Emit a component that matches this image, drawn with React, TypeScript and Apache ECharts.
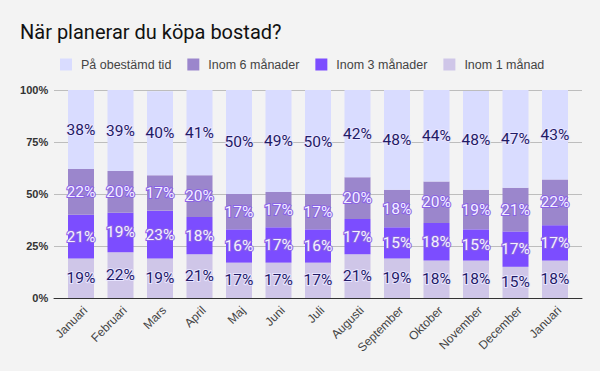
import React, { useEffect, useRef } from "react";
import * as echarts from "echarts";

const categories = ["Januari", "Februari", "Mars", "April", "Maj", "Juni", "Juli", "Augusti", "September", "Oktober", "November", "December", "Januari"];
const inom1 = [19, 22, 19, 21, 17, 17, 17, 21, 19, 18, 18, 15, 18];
const inom3 = [21, 19, 23, 18, 16, 17, 16, 17, 15, 18, 15, 17, 17];
const inom6 = [22, 20, 17, 20, 17, 17, 17, 20, 18, 20, 19, 21, 22];
const obestamd = [38, 39, 40.4, 41, 50, 49, 50, 42, 48, 44, 47.5, 47, 43];
const yTicks = [0, 25, 50, 75, 100];

const TOP = 90;
const BOTTOM = 73;

export default function App() {
  const ref = useRef<HTMLDivElement>(null);
  useEffect(() => {
    const chart = echarts.init(ref.current!, undefined, { renderer: "svg" });
    const lightLabel = {
      show: true,
      position: "inside",
      fontFamily: "Roboto",
      fontSize: 15.5,
      color: "#1f1a66",
      textBorderColor: "#e8e5ff",
      textBorderWidth: 2,
      formatter: (p: any) => Math.round(p.value) + "%",
    };
    const darkLabel = {
      ...lightLabel,
      color: "#f4f1ff",
      textBorderColor: "#8a63e6",
      textBorderWidth: 2,
    };
    const mk = (name: string, data: number[], color: string, label: any) => ({
      name,
      type: "bar",
      stack: "s",
      data,
      barWidth: 26,
      itemStyle: { color },
      label,
      xAxisIndex: 0,
      yAxisIndex: 0,
    });
    chart.setOption({
      animation: false,
      backgroundColor: "#f3f3f3",
      title: {
        text: "När planerar du köpa bostad?",
        left: 15,
        top: 17,
        textStyle: { fontFamily: "Roboto", fontSize: 20, fontWeight: "normal", color: "#111" },
      },
      legend: {
        top: 58,
        left: 60,
        padding: 0,
        itemWidth: 12,
        itemHeight: 12,
        itemGap: 16,
        icon: "rect",
        data: ["På obestämd tid", "Inom 6 månader", "Inom 3 månader", "Inom 1 månad"],
        textStyle: { fontFamily: "Liberation Sans", fontSize: 12.5, color: "#444", padding: [0, 0, 0, 4] },
      },
      grid: [
        { left: 61.25, right: 25.25, top: TOP, bottom: BOTTOM },
        { left: 54, right: 18, top: TOP, bottom: BOTTOM },
      ],
      xAxis: [
        {
          type: "category",
          gridIndex: 0,
          data: categories,
          axisLine: { show: false },
          axisTick: { show: false },
          axisLabel: {
            rotate: 45,
            interval: 0,
            fontFamily: "Liberation Sans",
            fontSize: 12,
            color: "#444",
            margin: 6,
            verticalAlign: "top",
          },
        },
        {
          type: "value",
          gridIndex: 1,
          min: 0,
          max: 1,
          axisLabel: { show: false },
          axisTick: { show: false },
          splitLine: { show: false },
          axisLine: { show: true, lineStyle: { color: "#333", width: 1 } },
        },
      ],
      yAxis: [
        {
          type: "value",
          gridIndex: 0,
          min: yTicks[0],
          max: yTicks[yTicks.length - 1],
          interval: 25,
          axisLine: { show: false },
          axisTick: { show: false },
          splitLine: { show: false },
          axisLabel: {
            formatter: "{value}%",
            fontFamily: "Liberation Sans",
            fontWeight: "bold",
            fontSize: 11,
            color: "#333",
            margin: 13,
          },
        },
        {
          type: "value",
          gridIndex: 1,
          min: 0,
          max: 100,
          interval: 25,
          axisLine: { show: false },
          axisTick: { show: false },
          axisLabel: { show: false },
          splitLine: { show: true, lineStyle: { color: "#bdbdbd", width: 1 } },
        },
      ],
      series: [
        mk("Inom 1 månad", inom1, "#cfc6e8", lightLabel),
        mk("Inom 3 månader", inom3, "#7c4dff", darkLabel),
        mk("Inom 6 månader", inom6, "#9b86cc", darkLabel),
        mk("På obestämd tid", obestamd, "#d9dcff", lightLabel),
      ],
    });
    return () => chart.dispose();
  }, []);
  return <div ref={ref} style={{ width: 600, height: 371, position: "absolute", left: 0, top: 0 }} />;
}
